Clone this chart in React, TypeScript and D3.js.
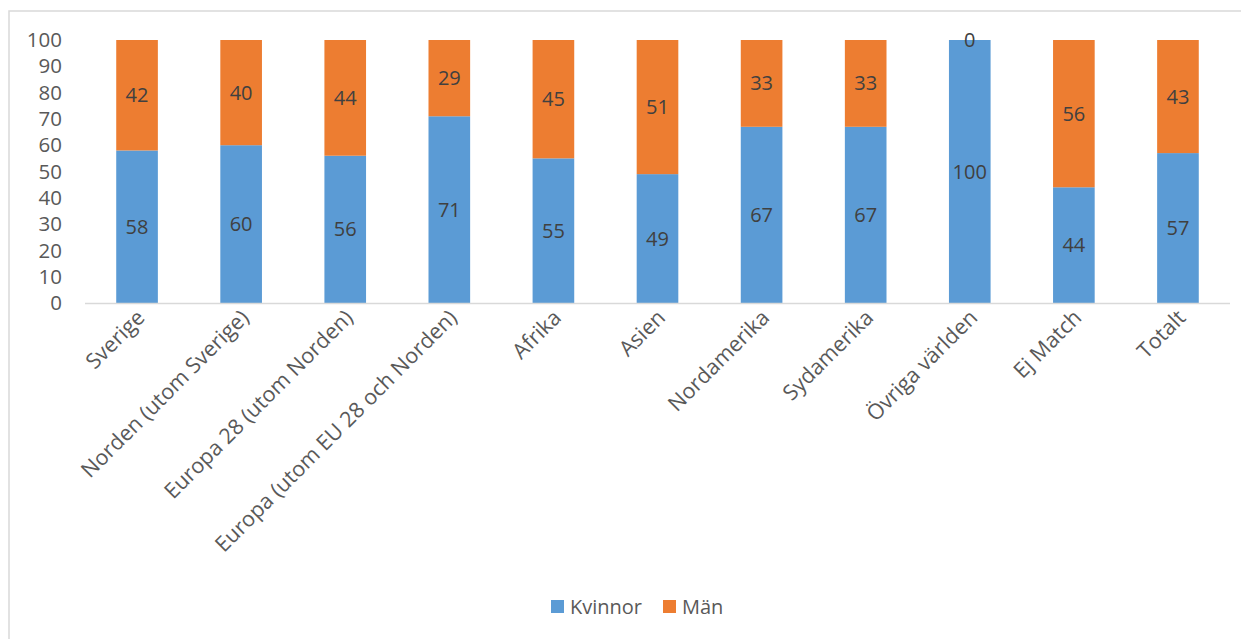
import React from "react";
import * as d3 from "d3";

const categories = [
  "Sverige",
  "Norden (utom Sverige)",
  "Europa 28 (utom Norden)",
  "Europa (utom EU 28 och Norden)",
  "Afrika",
  "Asien",
  "Nordamerika",
  "Sydamerika",
  "Övriga världen",
  "Ej Match",
  "Totalt",
];
const kvinnor = [58, 60, 56, 71, 55, 49, 67, 67, 100, 44, 57];
const man = [42, 40, 44, 29, 45, 51, 33, 33, 0, 56, 43];
const yTicks = [0, 10, 20, 30, 40, 50, 60, 70, 80, 90, 100];
const seriesNames = ["Kvinnor", "Män"];
const colors = ["#5B9BD5", "#ED7D31"];

export default function App() {
  const W = 1241;
  const H = 631;
  const font = "'Open Sans', sans-serif";
  const x = d3.scaleBand<string>().domain(categories).range([85, 1230]).paddingInner(0.6).paddingOuter(0.3);
  const y = d3.scaleLinear().domain([0, 100]).range([303, 40]);
  const rows = categories.map((c, i) => ({ c, Kvinnor: kvinnor[i], "Män": man[i] }));
  const stacked = d3.stack<any>().keys(seriesNames)(rows);

  return (
    <svg width={W} height={H} style={{ display: "block" }} fontFamily={font}>
      <g transform="translate(-8,-8)">
        <rect x={9} y={11} width={1400} height={1000} fill="white" stroke="#D9D9D9" strokeWidth={1.5} />
        {yTicks.map((t) => (
          <text key={t} x={62} y={y(t)} dy="0.35em" textAnchor="end" fontSize={20.5} fill="#595959">
            {t}
          </text>
        ))}
        {stacked.map((s, si) =>
          s.map((d, i) => (
            <rect
              key={si + "-" + i}
              x={x(categories[i])}
              y={y(d[1])}
              width={x.bandwidth()}
              height={y(d[0]) - y(d[1])}
              fill={colors[si]}
            />
          ))
        )}
        <line x1={85} x2={1230} y1={303.5} y2={303.5} stroke="#D9D9D9" strokeWidth={1.5} />
        {stacked.map((s, si) =>
          s.map((d, i) => (
            <text
              key={"l" + si + "-" + i}
              x={(x(categories[i]) as number) + x.bandwidth() / 2}
              y={(y(d[0]) + y(d[1])) / 2}
              dy="0.35em"
              textAnchor="middle"
              fontSize={20}
              fill="#404040"
            >
              {d[1] - d[0]}
            </text>
          ))
        )}
        {categories.map((c) => {
          const cx = (x(c) as number) + x.bandwidth() / 2;
          return (
            <text
              key={c}
              transform={`translate(${cx + 9},${319}) rotate(-45)`}
              textAnchor="end"
              fontSize={21.5}
              fill="#595959"
            >
              {c}
            </text>
          );
        })}
        <g>
          <rect x={551} y={600} width={13} height={13} fill={colors[0]} />
          <text x={570} y={614} fontSize={20} fill="#595959">{seriesNames[0]}</text>
          <rect x={663} y={600} width={13} height={13} fill={colors[1]} />
          <text x={682} y={614} fontSize={20} fill="#595959">{seriesNames[1]}</text>
        </g>
      </g>
    </svg>
  );
}
